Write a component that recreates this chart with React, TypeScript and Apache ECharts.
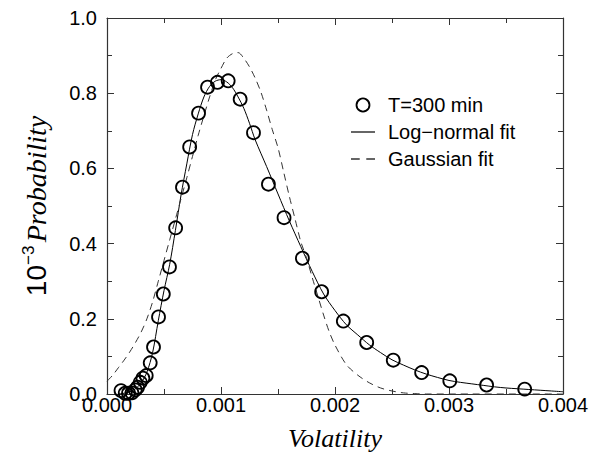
import React, { useEffect, useRef } from "react";
import * as echarts from "echarts";

// Observed data (T=300 min)
const volatility = [
  0.000123, 0.00016, 0.000189, 0.000219, 0.000248, 0.000268, 0.000292, 0.000315,
  0.000344, 0.000379, 0.000408, 0.000452, 0.000494, 0.000548, 0.000602, 0.000662,
  0.000725, 0.000803, 0.000882, 0.000969, 0.001063, 0.001168, 0.001285, 0.001416,
  0.001553, 0.001714, 0.001883, 0.002073, 0.002278, 0.002511, 0.00276, 0.003007,
  0.00333, 0.003664,
];
const probability = [
  0.009, 0.002, 0.002, 0.003, 0.011, 0.018, 0.031, 0.042,
  0.049, 0.083, 0.125, 0.205, 0.266, 0.338, 0.442, 0.55,
  0.657, 0.747, 0.816, 0.829, 0.833, 0.784, 0.695, 0.558,
  0.469, 0.361, 0.272, 0.194, 0.137, 0.09, 0.057, 0.035,
  0.024, 0.013,
];

// Log-normal fit curve
const lognormX = [
  0.0001, 0.00015, 0.0002, 0.00025, 0.0003, 0.00035, 0.0004, 0.00045, 0.0005, 0.00055,
  0.0006, 0.00065, 0.0007, 0.00075, 0.0008, 0.00085, 0.0009, 0.00095, 0.001, 0.00105,
  0.0011, 0.00115, 0.0012, 0.00125, 0.0013, 0.0014, 0.0015, 0.0016, 0.0017, 0.0018,
  0.0019, 0.002, 0.0021, 0.0022, 0.0023, 0.0024, 0.0025, 0.0026, 0.0027, 0.0028,
  0.0029, 0.003, 0.0031, 0.0032, 0.0033, 0.0034, 0.0035, 0.0036, 0.0037, 0.0038,
  0.0039, 0.004,
];
const lognormY = [
  0.0, 0.002, 0.006, 0.014, 0.03, 0.058, 0.11, 0.195, 0.275, 0.345,
  0.435, 0.53, 0.612, 0.69, 0.745, 0.79, 0.818, 0.832, 0.836, 0.83,
  0.815, 0.79, 0.76, 0.72, 0.676, 0.605, 0.532, 0.46, 0.392, 0.326,
  0.266, 0.222, 0.184, 0.157, 0.131, 0.11, 0.091, 0.077, 0.064, 0.053,
  0.044, 0.036, 0.031, 0.027, 0.023, 0.019, 0.016, 0.014, 0.012, 0.01,
  0.008, 0.006,
];

// Gaussian fit curve
const gaussX = [
  0.0, 0.00005, 0.0001, 0.00015, 0.0002, 0.00025, 0.0003, 0.00035, 0.0004, 0.00045,
  0.0005, 0.00055, 0.0006, 0.00065, 0.0007, 0.00075, 0.0008, 0.00085, 0.0009, 0.00095,
  0.001, 0.00105, 0.0011, 0.00115, 0.0012, 0.00125, 0.0013, 0.00135, 0.0014, 0.00145,
  0.0015, 0.00155, 0.0016, 0.00165, 0.0017, 0.00175, 0.0018, 0.00185, 0.0019, 0.00195,
  0.002, 0.0021, 0.0022, 0.0023, 0.0024, 0.0025, 0.0026, 0.0027, 0.0028, 0.0032,
  0.0036, 0.004,
];
const gaussY = [
  0.034, 0.05, 0.07, 0.09, 0.112, 0.137, 0.165, 0.2, 0.245, 0.3,
  0.355, 0.41, 0.465, 0.52, 0.575, 0.632, 0.688, 0.74, 0.79, 0.835,
  0.866, 0.893, 0.905, 0.908, 0.893, 0.87, 0.84, 0.803, 0.755, 0.703,
  0.655, 0.59, 0.525, 0.465, 0.405, 0.362, 0.31, 0.26, 0.21, 0.165,
  0.13, 0.078, 0.05, 0.03, 0.016, 0.008, 0.003, 0.001, 0.0, 0.0,
  0.0, 0.0,
];

const xTicks = { min: 0, max: 0.004, interval: 0.001 };
const yTicks = { min: 0, max: 1.0, interval: 0.2 };

const SANS = "Liberation Sans, Arial, Helvetica, sans-serif";
const SERIF = "Liberation Serif, Times New Roman, serif";

const SOLID_ICON = "path://M0,0 L24,0 L24,1.2 L0,1.2 Z";
const DASH_ICON = "path://M0,0 L8,0 L8,1.2 L0,1.2 Z M14,0 L22,0 L22,1.2 L14,1.2 Z";

export default function App() {
  const ref = useRef<HTMLDivElement>(null);

  useEffect(() => {
    if (!ref.current) return;
    const chart = echarts.init(ref.current, undefined, { renderer: "svg" });

    const axisLine = { show: true, onZero: false, lineStyle: { color: "#333", width: 1.2 } };
    const tick = { show: true, inside: true, length: 7, lineStyle: { color: "#333" } };
    const minor = { show: true, splitNumber: 2, length: 5, lineStyle: { color: "#333" } };

    chart.setOption({
      animation: false,
      backgroundColor: "#fff",
      grid: { left: 107, right: 44, top: 18, bottom: 65 },
      legend: {
        orient: "vertical",
        left: 346,
        top: 90,
        itemWidth: 24,
        itemHeight: 13,
        itemGap: 7,
        symbolKeepAspect: true,
        textStyle: { fontFamily: SANS, fontSize: 20, color: "#000", padding: [0, 0, 0, 8], lineHeight: 20 },
        data: [
          {
            name: "T=300 min",
            icon: "circle",
            itemStyle: { color: "rgba(0,0,0,0)", borderColor: "#000", borderWidth: 1.8 },
          },
          { name: "Log\u2212normal fit", icon: SOLID_ICON, itemStyle: { color: "#000", borderWidth: 0 } },
          { name: "Gaussian fit", icon: DASH_ICON, itemStyle: { color: "#333", borderWidth: 0 } },
        ],
      },
      xAxis: [
        {
          type: "value",
          ...xTicks,
          position: "bottom",
          axisLine,
          axisTick: tick,
          minorTick: minor,
          splitLine: { show: false },
          axisLabel: {
            fontFamily: SANS,
            fontSize: 20,
            color: "#000",
            margin: 4,
            lineHeight: 14,
            formatter: (v: number) => v.toFixed(3),
          },
          name: "Volatility",
          nameLocation: "middle",
          nameGap: 31,
          nameTextStyle: { fontFamily: SERIF, fontStyle: "italic", fontSize: 26, color: "#000" },
        },
        {
          type: "value",
          ...xTicks,
          position: "top",
          axisLine,
          axisTick: tick,
          minorTick: minor,
          splitLine: { show: false },
          axisLabel: { show: false },
        },
      ],
      yAxis: [
        {
          type: "value",
          ...yTicks,
          position: "left",
          axisLine,
          axisTick: tick,
          minorTick: minor,
          splitLine: { show: false },
          axisLabel: {
            fontFamily: SANS,
            fontSize: 20,
            color: "#000",
            margin: 10,
            lineHeight: 14,
            formatter: (v: number) => v.toFixed(1),
          },
          name: "{a|10}{b|\u22123} {c|Probability}",
          nameLocation: "middle",
          nameGap: 57,
          nameTextStyle: {
            rich: {
              a: { fontFamily: SANS, fontSize: 28, color: "#000", lineHeight: 30, verticalAlign: "bottom" },
              b: { fontFamily: SANS, fontSize: 17, color: "#000", lineHeight: 17, verticalAlign: "top" },
              c: { fontFamily: SERIF, fontStyle: "italic", fontSize: 28, color: "#000", lineHeight: 30, verticalAlign: "bottom" },
            },
          },
        },
        {
          type: "value",
          ...yTicks,
          position: "right",
          axisLine,
          axisTick: tick,
          minorTick: minor,
          splitLine: { show: false },
          axisLabel: { show: false },
        },
      ],
      series: [
        {
          name: "T=300 min",
          type: "scatter",
          symbol: "circle",
          symbolSize: 13,
          itemStyle: { color: "rgba(0,0,0,0)", borderColor: "#000", borderWidth: 1.8, opacity: 1 },
          data: volatility.map((v, i) => [v, probability[i]]),
          z: 5,
        },
        {
          name: "Log\u2212normal fit",
          type: "line",
          showSymbol: false,
          symbol: "none",
          smooth: 0.3,
          lineStyle: { color: "#000", width: 1, type: "solid" },
          itemStyle: { color: "#000" },
          data: lognormX.map((v, i) => [v, lognormY[i]]),
        },
        {
          name: "Gaussian fit",
          type: "line",
          showSymbol: false,
          symbol: "none",
          smooth: 0.3,
          lineStyle: { color: "#333", width: 1, type: [7, 5] },
          itemStyle: { color: "#333" },
          data: gaussX.map((v, i) => [v, gaussY[i]]),
        },
      ],
    });

    return () => chart.dispose();
  }, []);

  return (
    <div
      ref={ref}
      style={{ position: "fixed", left: 0, top: 0, width: 607, height: 459, background: "#fff" }}
    />
  );
}
